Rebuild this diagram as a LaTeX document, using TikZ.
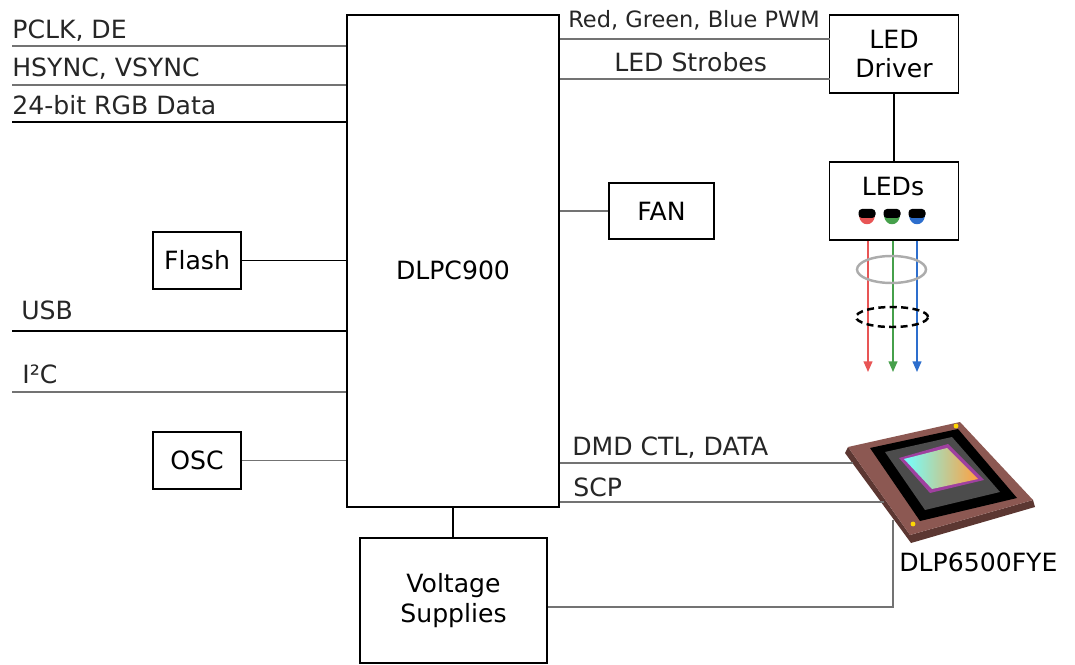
\documentclass[tikz,border=0pt]{standalone}
\usepackage{fontspec}
\setmainfont{DejaVu Sans}
\usetikzlibrary{arrows.meta}
\definecolor{chipbrown}{RGB}{140,88,82}
\definecolor{chipdark}{RGB}{92,55,50}
\definecolor{ledred}{RGB}{232,85,85}
\definecolor{ledgreen}{RGB}{70,160,75}
\definecolor{ledblue}{RGB}{45,110,205}
\begin{document}
\begin{tikzpicture}[x=0.02cm, y=-0.02cm, font=\fontsize{14.3}{17}\selectfont,
	box/.style = {draw, line width=0.9pt, align=center, inner sep=0pt},
	wire/.style = {draw=black!55, line width=0.6pt},
	bus/.style = {draw=black, line width=1.1pt},
	sig/.style = {anchor=base west, inner sep=0pt, text=black!85},
	beam/.style = {line width=0.8pt, -{Triangle[length=6pt,width=5pt]}}]

	\useasboundingbox (0,0) rectangle (1075,665);

	\node[box, minimum width=4.24cm, minimum height=9.84cm] (dlpc) at (453,261) {};
	\node (dlpct) at (453,270) {DLPC900};
	\node[box, minimum width=1.76cm, minimum height=1.14cm] (flash) at (197,260.5) {Flash};
	\node[box, minimum width=1.76cm, minimum height=1.14cm] (osc) at (197,460.5) {OSC};
	\node[box, minimum width=2.1cm, minimum height=1.12cm] (fan) at (661.5,211) {FAN};
	\node[box, minimum width=2.58cm, minimum height=1.56cm] (drv) at (894,54) {LED\\Driver};
	\node[box, minimum width=2.58cm, minimum height=1.56cm] (leds) at (894,201) {};
	\node (ledst) at (893,187) {LEDs};
	\node[box, minimum width=3.74cm, minimum height=2.5cm] (volt) at (453.5,600.5) {Voltage\\Supplies};

	% inputs on the left
	\coordinate (pclk) at (12,46);
	\coordinate (sync) at (12,85);
	\coordinate (rgb) at (12,122);
	\coordinate (usb) at (12,331);
	\coordinate (i2c) at (12,392);
	\draw[wire] (pclk) -- (pclk -| dlpc.west);
	\draw[wire] (sync) -- (sync -| dlpc.west);
	\draw[bus] (rgb) -- (rgb -| dlpc.west);
	\draw[bus] (usb) -- (usb -| dlpc.west);
	\draw[wire] (i2c) -- (i2c -| dlpc.west);
	\node[sig] (tpclk) at (12,38.5) {PCLK, DE};
	\node[sig] (tsync) at (12,77) {HSYNC, VSYNC};
	\node[sig] (trgb) at (12,115) {24-bit RGB Data};
	\node[sig] (tusb) at (21,320) {USB};
	\node[sig] (ti2c) at (22,384) {I²C};

	\draw[draw=black, line width=0.6pt] (flash) -- (flash -| dlpc.west);
	\draw[wire] (osc) -- (osc -| dlpc.west);
	\draw[wire] (fan) -- (fan -| dlpc.east);

	% LED path
	\coordinate (pwm) at (830,39);
	\coordinate (strb) at (830,79);
	\draw[wire] (pwm -| dlpc.east) -- (pwm);
	\draw[wire] (strb -| dlpc.east) -- (strb);
	\node[sig, font=\fontsize{12.8}{15}\selectfont] (tpwm) at (568,28) {Red, Green, Blue PWM};
	\node[sig] (tstrb) at (614,72) {LED Strobes};
	\draw[draw=black, line width=0.6pt] (drv) -- (leds);

	\foreach \x/\c in {867/ledred, 892/ledgreen, 917/ledblue} {
		\fill[\c] (\x-8,216) .. controls (\x-6.5,227) and (\x+6.5,227) .. (\x+8,216) -- cycle;
		\fill[black, rounded corners=2pt] (\x-8.5,209) rectangle (\x+8.5,218);
	}

	\coordinate (r0) at (868,372);
	\coordinate (g0) at (893,372);
	\coordinate (b0) at (917,372);
	\draw[beam, ledred] (r0 |- leds.south) -- (r0);
	\draw[beam, ledgreen] (g0 |- leds.south) -- (g0);
	\draw[beam, ledblue] (b0 |- leds.south) -- (b0);
	\draw[gray!65, line width=1.4pt] (891.5,269.5) ellipse [x radius=0.69cm, y radius=0.27cm];
	\draw[black, line width=1.4pt, dash pattern=on 4pt off 2.5pt] (892,317) ellipse [x radius=0.72cm, y radius=0.2cm];

	% DMD chip
	\fill[chipdark] (848,447) -- (910,535) -- (1033,500) -- (1035,507) -- (911,543) -- (845,453) -- cycle;
	\fill[chipbrown] (848,447) -- (960,422) -- (1033,500) -- (910,535) -- cycle;
	\fill[black] (870,448) -- (958,429) -- (1017,498) -- (920,521) -- cycle;
	\fill[black!70] (885,452) -- (952,437) -- (1000,492) -- (925,510) -- cycle;
	\fill[violet!75] (899,458) -- (948,444) -- (984,480) -- (930,493) -- cycle;
	\shade[left color=cyan!55, right color=orange!75] (904,459) -- (947,448) -- (978,479) -- (932,489) -- cycle;
	\fill[yellow!75!orange] (956,426) circle (1.4pt);
	\fill[yellow!75!orange] (913,524) circle (1.4pt);
	\node[anchor=base west, inner sep=0pt] (tdmd) at (899,571) {DLP6500FYE};

	\coordinate (dmd) at (853,463);
	\coordinate (scp) at (884,502);
	\coordinate (chipb) at (893,520);
	\draw[wire] (dmd -| dlpc.east) -- (dmd);
	\draw[wire] (scp -| dlpc.east) -- (scp);
	\node[sig] (tdmdc) at (572,456) {DMD CTL, DATA};
	\node[sig] (tscp) at (573,496) {SCP};

	% supplies
	\draw[draw=black, line width=0.6pt] (dlpc.south) -- (dlpc.south |- volt.north);
	\draw[wire] (chipb) |- ([yshift=-0.13cm]volt.east);
\end{tikzpicture}
\end{document}
